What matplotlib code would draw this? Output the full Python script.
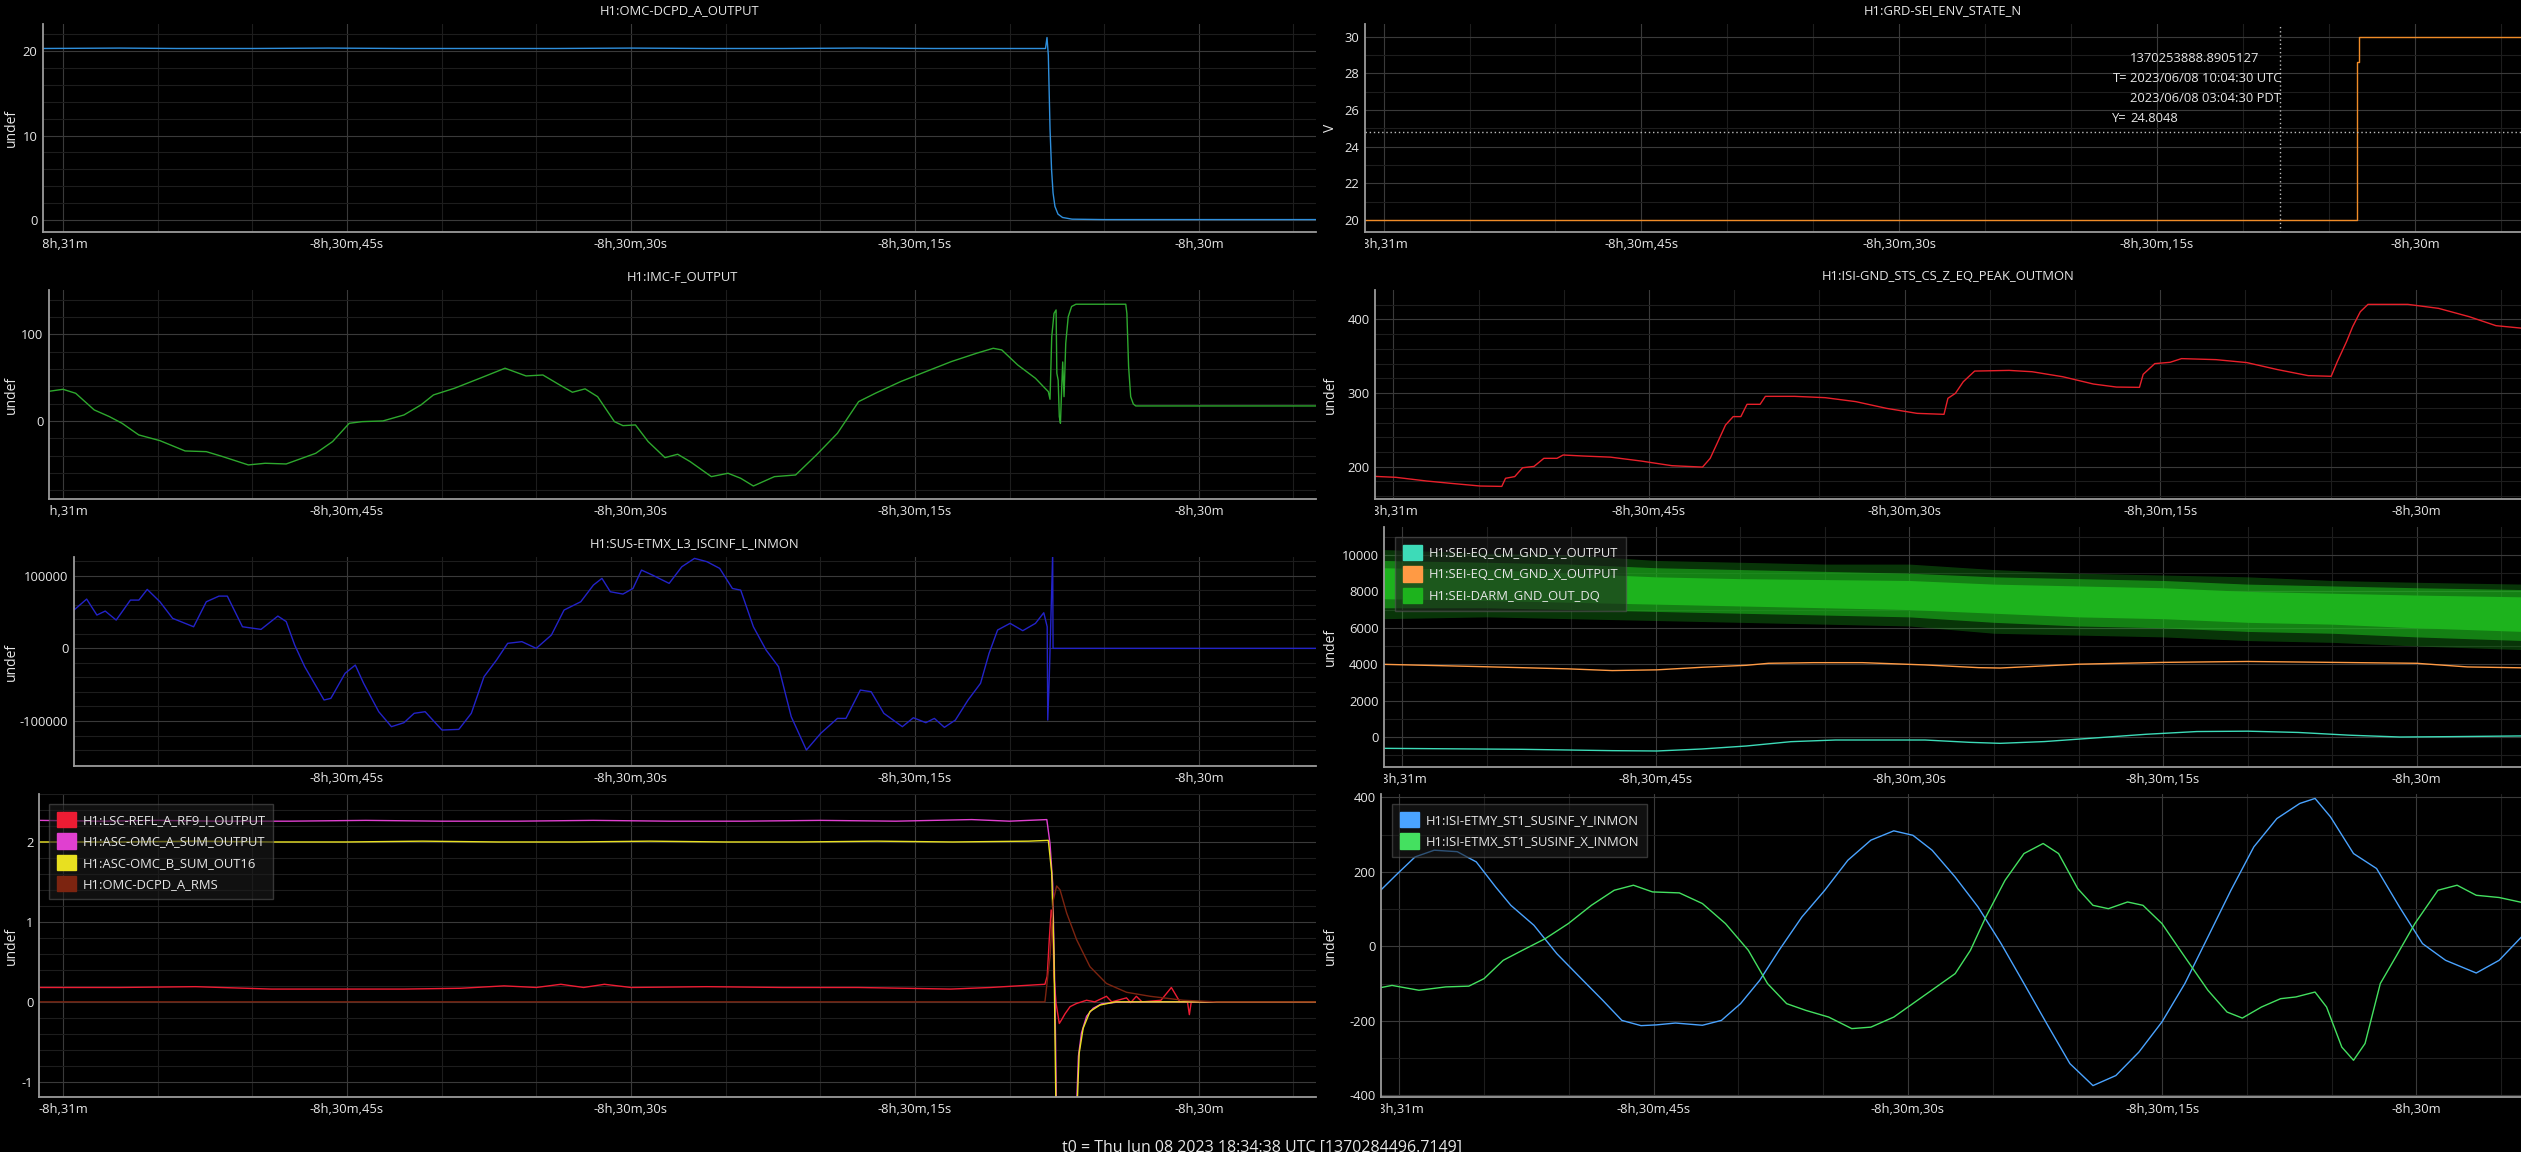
import matplotlib
matplotlib.use("Agg")
import matplotlib.pyplot as plt
from matplotlib.ticker import MultipleLocator, FuncFormatter
from matplotlib.transforms import Bbox, TransformedBbox, blended_transform_factory
from matplotlib.patches import Patch

plt.rcParams['font.family'] = ['Open Sans', 'DejaVu Sans']
plt.rcParams['axes.unicode_minus'] = False

W, H = 2521, 1152
T0_GPS = 1370284496.7149
T_START = -30660.0          # "-8h,31m" relative to t0
FOOTER = "t0 = Thu Jun 08 2023 18:34:38 UTC [1370284496.7149]"

# ---------------- data (times are seconds after -8h,31m) ----------------
dcpd_t = [-1.2, 3, 6, 10, 14, 18, 22, 26, 30, 34, 38, 42, 46, 50, 51.9, 51.98,
          52.05, 52.14, 52.22, 52.3, 52.4, 52.56, 52.8, 53.3, 55, 60, 66.3]
dcpd_v = [20.3, 20.35, 20.3, 20.3, 20.35, 20.3, 20.3, 20.3, 20.35, 20.3, 20.3, 20.35,
          20.3, 20.3, 20.3, 21.6, 19.5, 10.8, 6.0, 3.2, 1.6, 0.7, 0.3, 0.1, 0.05, 0.05, 0.05]

grd_t = [-1.2, 56.64, 56.64, 56.73, 56.73, 66.3]
grd_v = [20, 20, 28.6, 28.6, 30, 30]
cross_gps = 1370253888.8905127
cross_y = 24.8048
cross_lines = [("", "1370253888.8905127"),
               ("T=", "2023/06/08 10:04:30 UTC"),
               ("", "2023/06/08 03:04:30 PDT"),
               ("Y=", "24.8048")]

imc_t = [-0.8, 0.0, 0.67, 1.65, 2.45, 3.12, 4.0, 5.12, 6.45, 7.57, 8.45, 9.79, 10.68,
         11.79, 13.35, 14.24, 15.12, 15.79, 16.9, 18.01, 18.91, 19.57, 20.68, 22.02,
         23.35, 24.46, 25.35, 26.24, 26.91, 27.58, 28.24, 29.13, 29.58, 30.24, 30.91,
         31.8, 32.47, 33.13, 34.25, 35.13, 35.8, 36.47, 37.58, 38.7, 39.8, 40.91,
         42.03, 42.91, 44.25, 45.58, 46.92, 48.25, 49.14, 49.59, 50.43, 51.37, 51.79,
         52.05, 52.14, 52.23, 52.35, 52.46, 52.5, 52.57, 52.63, 52.69, 52.76, 52.81,
         52.88, 52.97, 53.1, 53.28, 53.51, 56.14, 56.2, 56.29, 56.4, 56.54, 56.67, 66.3]
imc_v = [34.0, 36.5, 31.9, 12.7, 5, -2.7, -16.1, -22.7, -34.6, -35.4, -41.2, -50.7, -48.8,
         -49.6, -37.3, -23.8, -2.7, -0.8, 0, 6.9, 18.5, 30, 37.7, 49.2,
         60.8, 51.9, 53, 41.5, 33.1, 37, 28, -0.8, -5.4, -4.6, -23.8,
         -42.3, -38.4, -46.9, -64.2, -60.3, -66.1, -75, -64.2, -62.3, -39.2, -14.2,
         22.3, 31.9, 45.4, 56.9, 68.4, 78, 83.8, 81.9, 64.6, 49.2, 39.6,
         33.8, 25, 97, 124, 128, 55, 47, 5, -2.7, 40, 68,
         28, 89.6, 120, 132, 134.6, 134.6, 124, 63, 28, 19.5, 17.3, 17.3]

sus_t = [0.58, 1.25, 1.79, 2.23, 2.81, 3.56, 4.01, 4.45, 5.12, 5.79, 6.9, 7.57, 8.24,
         8.68, 9.48, 10.46, 11.35, 11.79, 12.24, 12.77, 13.79, 14.15, 14.9, 15.44,
         15.88, 16.68, 17.35, 18.01, 18.55, 19.13, 20.02, 20.91, 21.57, 22.24, 22.9,
         23.49, 24.24, 25.0, 25.8, 26.47, 27.35, 28.02, 28.47, 28.91, 29.58, 30.11,
         30.56, 31.14, 32.02, 32.69, 33.36, 34.02, 34.69, 35.36, 35.8, 36.47, 37.14,
         37.8, 38.47, 39.27, 40.03, 40.91, 41.36, 42.12, 42.69, 43.36, 44.34, 44.92,
         45.58, 46.03, 46.56, 47.14, 47.81, 48.47, 48.92, 49.37, 50.03, 50.7, 51.37,
         51.81, 51.99, 52.02, 52.1, 52.28, 52.3, 66.3]
sus_v = [52700, 67800, 45800, 51300, 38900, 66400, 66400, 81100, 64100, 41300, 29700,
         64100, 71900, 71900, 29700, 26100, 44400, 36900, 4500, -25300, -71100, -68800,
         -34400, -23000, -48100, -87200, -107800, -102300, -89400, -87200, -112400,
         -111500, -89400, -39000, -16100, 6900, 9200, 0, 18300, 52700, 64100, 87100,
         96300, 77900, 74700, 82400, 107700, 100800, 89400, 112300, 123800, 119200,
         110000, 82400, 80100, 29700, -2300, -25300, -94100, -139900, -116900, -96400,
         -96400, -57400, -59700, -89400, -107800, -95500, -102300, -96400, -108700,
         -98700, -71100, -48100, -6900, 25200, 34400, 24300, 34400, 49000, 29700,
         -98700, -40000, 130000, 0, 0]

eq_t = [-1.2, 0.15, 1.95, 3.3, 5.1, 6.36, 6.58, 7.12, 7.58, 8.25, 8.83, 9.6, 9.96, 11.17,
        12.74, 14.54, 16.34, 18.14, 18.59, 19.04, 19.49, 19.94, 20.39, 20.75, 21.52,
        21.83, 23.54, 25.34, 27.14, 28.94, 30.73, 32.31, 32.54, 32.98, 33.44, 34.11,
        36.13, 37.48, 39.28, 41.08, 42.43, 43.78, 44.0, 44.68, 45.58, 46.25, 48.27,
        50.08, 51.88, 53.68, 55.03, 55.39, 55.93, 56.29, 56.74, 57.19, 59.53, 61.33,
        63.13, 64.7, 66.3]
eq_v = [187, 185.6, 180.6, 177.6, 173.8, 173.3, 184.3, 186.6, 198.6, 200.4, 211.4, 211.4,
        215.9, 214.5, 213, 207.7, 201.4, 199.5, 211.4, 233.9, 256.6, 268, 268, 284.7,
        284.7, 295.5, 295.5, 293.7, 288.3, 279.2, 272.4, 271.1, 292.8, 299.6, 315.3,
        329.8, 330.7, 328.9, 322.1, 312.2, 308.1, 307.7, 325.4, 339.9, 341.7, 346.7,
        345.3, 341.3, 331.8, 323.6, 322.7, 342.6, 369.6, 390, 410.3, 420.3, 420.3,
        414.9, 403.6, 391.4, 387.8]

eqy_t = [-1.2, 7.13, 12.42, 15.06, 17.71, 20.35, 22.99, 25.63, 28.28, 30.92, 33.56, 35.36,
         38, 41, 44, 47, 50, 53, 56, 59, 62, 66.3]
eqy_v = [-622, -677, -750, -768, -659, -494, -256, -165, -165, -165, -293, -348,
         -250, -50, 150, 300, 320, 250, 100, 0, 20, 60]
eqx_t = [-1.2, 4.49, 9.78, 12.42, 15.06, 17.71, 20.35, 21.67, 24.32, 27.22, 30.92, 34.1,
         35.36, 40, 45, 50, 55, 60, 63, 66.3]
eqx_v = [3995, 3870, 3745, 3650, 3690, 3830, 3940, 4050, 4085, 4085, 3960, 3810,
         3790, 4000, 4100, 4150, 4100, 4050, 3850, 3800]
darm_t = [-1.2, 5, 10, 15, 20, 25, 30, 35, 40, 45, 50, 55, 60, 66.3]
darm_hi = [10300, 10100, 10000, 9700, 9600, 9500, 9500, 9200, 9000, 8900, 8800, 8600, 8500, 8400]
darm_lo = [6500, 6600, 6500, 6400, 6300, 6200, 6100, 5700, 5600, 5500, 5300, 5200, 5000, 4800]
darm_mid_hi = [9700, 9600, 9500, 9300, 9200, 9100, 9000, 8800, 8700, 8600, 8400, 8300, 8200, 8100]
darm_mid_lo = [7100, 7100, 7000, 6900, 6800, 6700, 6600, 6300, 6100, 6000, 5800, 5700, 5500, 5300]
darm_core_hi = [9300, 9200, 9000, 8800, 8700, 8650, 8600, 8400, 8300, 8200, 8000, 7900, 7800, 7700]
darm_core_lo = [7600, 7500, 7400, 7300, 7200, 7100, 7000, 6800, 6600, 6500, 6300, 6200, 6000, 5800]

refl_t = [-1.2, 3, 7, 11, 15, 18, 21, 23.3, 25, 26.3, 27.5, 28.6, 30, 34, 38, 42, 46.9,
          49, 51.87, 51.99, 52.1, 52.2, 52.28, 52.35, 52.46, 52.63, 52.76, 52.93, 53.2,
          53.54, 54.07, 54.5, 55.12, 55.4, 56.18, 56.4, 56.7, 57.0, 58.0, 58.55, 59.0,
          59.4, 59.5, 59.6, 60.5, 66.3]
refl_v = [0.18, 0.18, 0.19, 0.16, 0.16, 0.16, 0.17, 0.2, 0.18, 0.22, 0.18, 0.22, 0.18,
          0.19, 0.18, 0.18, 0.16, 0.18, 0.22, 0.32, 0.78, 1.15, 1.03, 0.32, -0.02, -0.27,
          -0.22, -0.15, -0.06, -0.02, 0.02, 0.0, 0.07, 0.0, 0.05, -0.01, 0.07, 0.0, 0.02,
          0.18, 0.0, 0.0, -0.16, 0.0, 0.0, 0.0]
omca_t = [-1.2, 2, 5, 8, 12, 16, 20, 24, 28, 32, 36, 40, 44, 48, 50, 51.97, 52.14,
          52.28, 52.4, 52.49, 53.51, 53.64, 53.8, 54.07, 54.42, 54.86, 55.65, 58, 66.3]
omca_v = [2.27, 2.26, 2.27, 2.26, 2.26, 2.27, 2.26, 2.26, 2.27, 2.26, 2.26, 2.27, 2.26,
          2.28, 2.26, 2.28, 1.98, 1.48, 0.07, -1.5, -1.5, -0.68, -0.39, -0.18, -0.08,
          -0.025, -0.005, 0, 0]
omcb_t = [-1.2, 3, 7, 11, 15, 19, 23, 27, 31, 35, 39, 43, 47, 51, 52.05, 52.23, 52.35,
          52.46, 53.54, 53.68, 53.89, 54.25, 54.78, 55.6, 66.3]
omcb_v = [2.0, 2.0, 2.01, 2.0, 2.0, 2.01, 2.0, 2.0, 2.01, 2.0, 2.0, 2.01, 2.0, 2.01,
          2.02, 1.61, 0.57, -1.5, -1.5, -0.64, -0.33, -0.12, -0.04, 0, 0]
rms_t = [-1.2, 10, 20, 30, 40, 51.87, 52.14, 52.31, 52.49, 52.67, 53.02, 53.54, 54.25,
         55.12, 56.18, 57.42, 59.18, 60.94, 66.3]
rms_v = [0, 0, 0, 0, 0, 0.0, 0.57, 1.27, 1.45, 1.40, 1.11, 0.78, 0.44, 0.23, 0.12, 0.07,
         0.02, 0.0, 0.0]

etmy_t = [-1.1, -0.2, 0.93, 2.06, 3.42, 4.54, 5.68, 6.58, 7.94, 9.29, 10.64, 12.0, 13.13,
          14.26, 15.16, 16.29, 17.88, 19.0, 20.13, 21.26, 22.4, 23.75, 25.1, 26.46, 27.82,
          29.17, 30.3, 31.43, 32.79, 34.14, 35.5, 36.85, 38.21, 39.56, 40.92, 42.27, 43.63,
          44.99, 46.34, 47.7, 49.06, 50.41, 51.77, 53.12, 54.02, 54.93, 56.29, 57.65,
          59.0, 60.36, 61.72, 63.53, 64.88, 66.3]
etmy_v = [150.5, 190.9, 240, 258, 254, 226.6, 159.4, 110, 56.5, -19.7, -82.4, -145, -199,
          -213, -211, -206, -212, -199, -154, -91.4, -10.8, 78.8, 150.5, 231, 285, 310,
          298, 258, 186, 105.7, 7.2, -100, -209, -315, -374, -347, -284, -203, -100, 25,
          150.5, 267, 343, 383.5, 397, 347.6, 249, 208.8, 105.7, 7.2, -37.6, -71.7,
          -37.6, 30]
etmx_t = [-1.1, -0.43, 1.16, 2.74, 4.1, 5.0, 6.13, 7.26, 8.61, 9.97, 11.33, 12.68, 13.81,
          14.94, 16.52, 17.88, 19.24, 20.59, 21.72, 22.85, 23.98, 25.33, 26.69, 27.82,
          29.17, 30.98, 32.79, 33.69, 34.6, 35.73, 36.85, 37.98, 38.89, 40.02, 40.92,
          41.83, 42.96, 43.87, 44.99, 46.34, 47.7, 48.83, 49.73, 50.86, 51.99, 52.89,
          54.02, 54.7, 55.6, 56.29, 56.97, 57.87, 58.78, 59.91, 61.27, 62.4, 63.53, 64.88,
          66.3]
etmx_v = [-111, -105, -118, -109, -107, -86.8, -37.6, -10.8, 20.6, 61, 110, 150.5, 164,
          146, 143.4, 114.8, 61, -10.8, -100, -154, -172, -190, -221, -217, -190, -131.7,
          -73.4, -10.8, 78.8, 177, 249, 276, 249, 155, 110, 101, 119, 110, 61, -28.7,
          -118, -176.5, -192.7, -163, -140.6, -136, -122.8, -163, -270.7, -306, -261,
          -100, -28.7, 61, 150.5, 164, 137, 131, 117]

# ---------------- figure ----------------
TXT = '#e6e6e6'
FS = 9.4

fig = plt.figure(figsize=(W / 100, H / 100), dpi=100, facecolor='black')


def fmt_time(x, pos=None):
    sec = int(round(-x))
    h, rem = divmod(sec, 3600)
    m, s = divmod(rem, 60)
    parts = []
    if h:
        parts.append('%dh' % h)
    if m:
        parts.append('%dm' % m)
    if s:
        parts.append('%ds' % s)
    return '-' + ','.join(parts)


def make_ax(x0, x1, y0, y1, tlim, ylim, major, minor, ylabel, ylab_x, title=None):
    ax = fig.add_axes([x0 / W, 1 - y1 / H, (x1 - x0) / W, (y1 - y0) / H])
    ax.set_facecolor('black')
    ax.set_xlim(T_START + tlim[0], T_START + tlim[1])
    ax.set_ylim(*ylim)
    ax.xaxis.set_major_locator(MultipleLocator(15))
    ax.xaxis.set_minor_locator(MultipleLocator(5))
    ax.xaxis.set_major_formatter(FuncFormatter(fmt_time))
    ax.yaxis.set_major_locator(MultipleLocator(major))
    ax.yaxis.set_minor_locator(MultipleLocator(minor))
    ax.yaxis.set_major_formatter(FuncFormatter(lambda v, p: '%g' % v))
    ax.grid(which='major', color='#3a3a3a', lw=0.8)
    ax.grid(which='minor', color='#1d1d1d', lw=0.8)
    ax.set_axisbelow(True)
    for sp in ['top', 'right']:
        ax.spines[sp].set_visible(False)
    for sp in ['left', 'bottom']:
        ax.spines[sp].set_color('#9a9a9a')
        ax.spines[sp].set_linewidth(1.3)
    ax.tick_params(which='both', length=0, colors=TXT, labelsize=FS)
    ax.tick_params(axis='x', pad=4)
    ax.tick_params(axis='y', pad=4)
    ax.set_ylabel(ylabel, color=TXT, fontsize=10)
    ax.yaxis.set_label_coords(ylab_x / W, 0.5,
                              transform=blended_transform_factory(fig.transFigure, ax.transAxes))
    clip = TransformedBbox(Bbox.from_extents(x0 / W, 0, 1, 1), fig.transFigure)
    for lab in ax.get_xticklabels():
        lab.set_clip_box(clip)
        lab.set_clip_on(True)
    if title:
        fig.text((x0 + x1) / 2 / W, 1 - title[1] / H, title[0], color=TXT,
                 fontsize=FS, ha='center', va='center')
    return ax


def left_tlim(x0):
    return ((x0 - 63) / 18.93, 66.19)


RIGHT_TLIM = (-1.08, 66.17)
LEG = dict(loc='upper left', bbox_transform=fig.transFigure, borderaxespad=0, fontsize=FS,
           handlelength=1.45, handleheight=1.45, handletextpad=0.5, labelspacing=0.45,
           borderpad=0.6, fancybox=False, facecolor='#1c1c1c', edgecolor='#555555',
           framealpha=0.6, labelcolor=TXT)

# left column
ax = make_ax(43, 1316, 24, 232, left_tlim(43), (-1.42, 23.2), 10, 2, 'undef', 19,
             title=("H1:OMC-DCPD_A_OUTPUT", 11))
ax.plot([T_START + t for t in dcpd_t], dcpd_v, color='#2f8fdc', lw=1.0)

ax = make_ax(49, 1316, 290, 499, left_tlim(49), (-90, 151), 100, 20, 'undef', 19,
             title=("H1:IMC-F_OUTPUT", 277))
ax.plot([T_START + t for t in imc_t], imc_v, color='#2ea82e', lw=1.0)

ax = make_ax(74, 1316, 557, 766, left_tlim(74), (-161900, 125700), 100000, 20000, 'undef', 19,
             title=("H1:SUS-ETMX_L3_ISCINF_L_INMON", 544))
ax.plot([T_START + t for t in sus_t], sus_v, color='#2323c8', lw=1.0)

ax = make_ax(39, 1316, 794, 1097, left_tlim(39), (-1.19, 2.6), 1, 0.2, 'undef', 19)
c4 = ['#ee1c33', '#e040d0', '#e8e020', '#7c2410']
n4 = ['H1:LSC-REFL_A_RF9_I_OUTPUT', 'H1:ASC-OMC_A_SUM_OUTPUT', 'H1:ASC-OMC_B_SUM_OUT16',
      'H1:OMC-DCPD_A_RMS']
for tt, vv, c in [(refl_t, refl_v, c4[0]), (omca_t, omca_v, c4[1]), (omcb_t, omcb_v, c4[2]),
                  (rms_t, rms_v, c4[3])]:
    ax.plot([T_START + t for t in tt], vv, color=c, lw=1.0)
ax.legend([Patch(color=c) for c in c4], n4, bbox_to_anchor=(49 / W, 1 - 804 / H), **LEG)

# right column
ax = make_ax(1365, 2521, 24, 232, RIGHT_TLIM, (19.34, 30.7), 2, 1, 'V', 1338,
             title=("H1:GRD-SEI_ENV_STATE_N", 11))
ax.plot([T_START + t for t in grd_t], grd_v, color='#f08c28', lw=1.0)
cross_x = cross_gps - T0_GPS
ax.axvline(cross_x, color='#bdbdbd', lw=1.0, ls=(0, (1, 2)))
ax.axhline(cross_y, color='#bdbdbd', lw=1.0, ls=(0, (1, 2)))
for i, (lab, val) in enumerate(cross_lines):
    yy = 1 - (58 + 20 * i) / H
    if lab:
        fig.text(2127 / W, yy, lab, color=TXT, fontsize=FS, ha='right', va='center')
    fig.text(2130 / W, yy, val, color=TXT, fontsize=FS, ha='left', va='center')

ax = make_ax(1375, 2521, 290, 499, RIGHT_TLIM, (156.2, 439.8), 100, 20, 'undef', 1338,
             title=("H1:ISI-GND_STS_CS_Z_EQ_PEAK_OUTMON", 277))
ax.plot([T_START + t for t in eq_t], eq_v, color='#e8202a', lw=1.0)

ax = make_ax(1384, 2521, 527, 767, RIGHT_TLIM, (-1648, 11538), 2000, 1000, 'undef', 1338)
c3 = ['#3ddbb8', '#ff9a44', '#1db31d']
n3 = ['H1:SEI-EQ_CM_GND_Y_OUTPUT', 'H1:SEI-EQ_CM_GND_X_OUTPUT', 'H1:SEI-DARM_GND_OUT_DQ']
ax.plot([T_START + t for t in eqy_t], eqy_v, color=c3[0], lw=1.0)
ax.plot([T_START + t for t in eqx_t], eqx_v, color=c3[1], lw=1.0)
dx = [T_START + t for t in darm_t]
ax.fill_between(dx, darm_lo, darm_hi, color=c3[2], alpha=0.3, lw=0)
ax.fill_between(dx, darm_mid_lo, darm_mid_hi, color=c3[2], alpha=0.6, lw=0)
ax.fill_between(dx, darm_core_lo, darm_core_hi, color=c3[2], lw=0)
ax.legend([Patch(color=c) for c in c3], n3, bbox_to_anchor=(1395 / W, 1 - 537 / H), **LEG)

ax = make_ax(1381, 2521, 794, 1097, RIGHT_TLIM, (-404.6, 408.9), 200, 100, 'undef', 1338)
c5 = ['#4aa3ff', '#44e060']
n5 = ['H1:ISI-ETMY_ST1_SUSINF_Y_INMON', 'H1:ISI-ETMX_ST1_SUSINF_X_INMON']
ax.plot([T_START + t for t in etmy_t], etmy_v, color=c5[0], lw=1.0)
ax.plot([T_START + t for t in etmx_t], etmx_v, color=c5[1], lw=1.0)
ax.legend([Patch(color=c) for c in c5], n5, bbox_to_anchor=(1392 / W, 1 - 804 / H), **LEG)

fig.text(1262 / W, 1 - 1140 / H, FOOTER, color=TXT, fontsize=11.5, ha='center', va='top')

fig.savefig('out.png', dpi=100, facecolor='black')
